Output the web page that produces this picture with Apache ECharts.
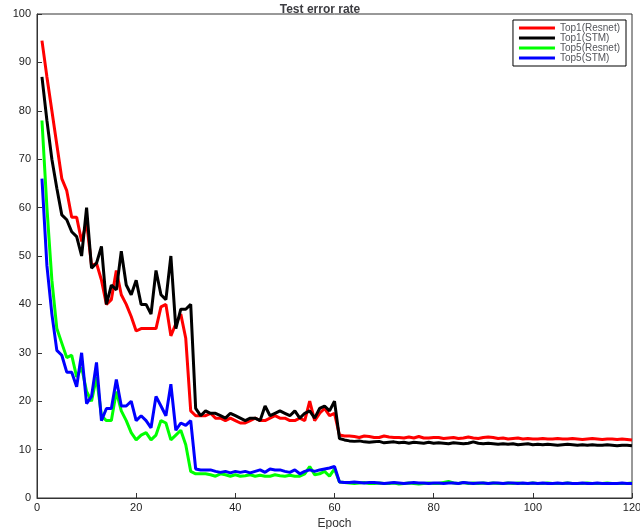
<!DOCTYPE html>
<html><head><meta charset="utf-8">
<script src="https://cdn.jsdelivr.net/npm/echarts@6/dist/echarts.min.js"></script>
<style>body{margin:0}#c{width:640px;height:529px}</style></head>
<body><div id="c"></div>
<script>
const epochs = Array.from({length: 120}, (_, i) => i + 1);
const top1Resnet = [94.5,87,80,73,66,63.5,58,58,53,57,48,48.5,45,40,41,47,42,40,37.5,34.5,35,35,35,35,39.5,40,33.5,36,38,33,18,17,17,17,17.5,16.5,16.5,16,16.5,16,15.5,15.5,16,16.5,16,16,16.5,17,16.5,16.5,16,16,16.5,16,20,16,17.5,18.5,17,17.5,13,12.8,12.8,12.7,12.5,12.8,12.7,12.5,12.5,12.8,12.6,12.5,12.5,12.4,12.6,12.4,12.7,12.4,12.4,12.5,12.5,12.3,12.4,12.5,12.3,12.4,12.6,12.4,12.3,12.5,12.6,12.5,12.3,12.4,12.2,12.3,12.4,12.2,12.3,12.2,12.2,12.3,12.2,12.2,12.3,12.2,12.2,12.3,12.2,12.1,12.2,12.3,12.2,12.1,12.2,12.2,12.1,12.2,12.1,12.0];
const top1STM = [87,78,70,64,58.5,57.5,55,54,50,60,47.5,48.5,52,40,44,43,51,44,42,45,40,40,38,47,42,41,50,35,39,39,40,18.5,17,18,17.5,17.5,17,16.5,17.5,17,16.5,16,16.5,16.5,16,19,17,17.5,18,17.5,17,18,16.5,17.5,18,16.5,18.5,19,18,20,12.3,12,11.8,11.7,11.8,11.6,11.5,11.6,11.7,11.4,11.5,11.6,11.4,11.5,11.3,11.5,11.4,11.3,11.5,11.3,11.4,11.3,11.2,11.4,11.3,11.2,11.3,11.6,11.3,11.2,11.3,11.2,11.1,11.2,11.1,11.2,11.0,11.1,11.2,11.0,11.1,11.0,11.1,11.0,10.9,11.0,11.1,11.0,10.9,11.0,10.9,11.0,10.9,10.9,11.0,10.9,10.8,10.9,10.9,10.8];
const top5Resnet = [78,60,45,35,32,29,29.5,25,27,22,20,25,17,16,16,22,18,16,13.5,12,13,13.5,12,13,16,15.5,12,13,14,11,5.5,5,5,5,4.8,4.5,5,4.8,4.5,4.8,4.5,4.6,4.8,4.5,4.7,4.5,4.5,4.8,4.6,4.5,4.7,4.5,4.5,5,6.5,4.8,5,5.5,4.5,6,3.3,3.2,3.1,3.0,3.1,3.2,3.0,3.0,3.1,3.0,3.0,3.1,2.9,3.0,3.1,3.0,2.9,3.0,3.1,3.0,3.0,3.2,3.4,3.1,3.0,3.2,3.0,3.1,3.0,3.1,3.0,3.1,3.0,3.0,3.1,3.0,3.1,3.0,3.0,3.1,3.0,3.0,3.1,3.0,3.0,3.0,3.1,3.0,3.0,3.0,3.1,3.0,3.0,3.0,3.1,3.0,3.0,3.0,3.0,3.1];
const top5STM = [66,48,38,30.5,29.5,26,26,23,30,19.5,21,28,16,18.5,18.5,24.5,19,19,20,16,17,16,14.5,21,19,17,23.5,14,15.5,15,16,6,5.8,5.8,5.8,5.5,5.3,5.5,5.2,5.5,5.3,5.5,5.2,5.5,5.8,5.3,6,5.8,5.8,5.5,5.3,5.8,5,5.5,5.8,5.5,5.8,6,6.2,6.5,3.3,3.2,3.2,3.3,3.2,3.1,3.2,3.2,3.1,3.0,3.1,3.2,3.1,3.0,3.1,3.2,3.1,3.1,3.0,3.1,3.1,3.0,3.1,3.1,3.0,3.2,3.1,3.0,3.1,3.1,3.0,3.1,3.1,3.0,3.1,3.1,3.0,3.1,3.0,3.1,3.0,3.1,3.0,3.0,3.1,3.0,3.1,3.0,3.0,3.1,3.0,3.0,3.1,3.0,3.0,3.0,3.0,3.1,3.0,3.0];

const chart = echarts.init(document.getElementById('c'));
const mk = (name, data, color) => ({
  name, type: 'line', data: epochs.map((e, i) => [e, data[i]]),
  showSymbol: false, lineStyle: {color, width: 3}, itemStyle: {color}
});
chart.setOption({
  animation: false,
  title: {text: 'Test error rate', left: 'center', top: -1,
    textStyle: {fontSize: 12, fontWeight: 'bold', fontFamily: 'Liberation Sans'}},
  legend: {orient: 'vertical', right: 14, top: 20, itemWidth: 36, itemHeight: 3, itemGap: 0,
    backgroundColor: '#fff', borderColor: '#000', borderWidth: 1, padding: [3, 6],
    textStyle: {fontSize: 10, fontFamily: 'Liberation Sans'}, icon: 'rect'},
  grid: {left: 37, right: 8, top: 14, bottom: 31, outerBoundsMode: 'none', containLabel: false,
    show: true, borderColor: '#333', borderWidth: 1},
  xAxis: {type: 'value', min: 0, max: 120, interval: 20, name: 'Epoch', nameLocation: 'middle', nameGap: 13,
    nameTextStyle: {fontSize: 12, fontFamily: 'Liberation Sans'},
    axisLine: {lineStyle: {color: '#333'}}, axisTick: {inside: true},
    axisLabel: {fontSize: 11, color: '#222', margin: 4}, splitLine: {show: false}},
  yAxis: {type: 'value', min: 0, max: 100, interval: 10, name: 'Error rate', nameLocation: 'middle', nameGap: 24,
    nameTextStyle: {fontSize: 12, fontFamily: 'Liberation Sans'},
    axisLine: {show: true, lineStyle: {color: '#333'}}, axisTick: {show: true, inside: true},
    axisLabel: {fontSize: 11, color: '#222', margin: 6}, splitLine: {show: false}},
  series: [
    mk('Top1(Resnet)', top1Resnet, '#ff0000'),
    mk('Top1(STM)', top1STM, '#000000'),
    mk('Top5(Resnet)', top5Resnet, '#00ff00'),
    mk('Top5(STM)', top5STM, '#0000ff')
  ]
});
</script></body></html>
